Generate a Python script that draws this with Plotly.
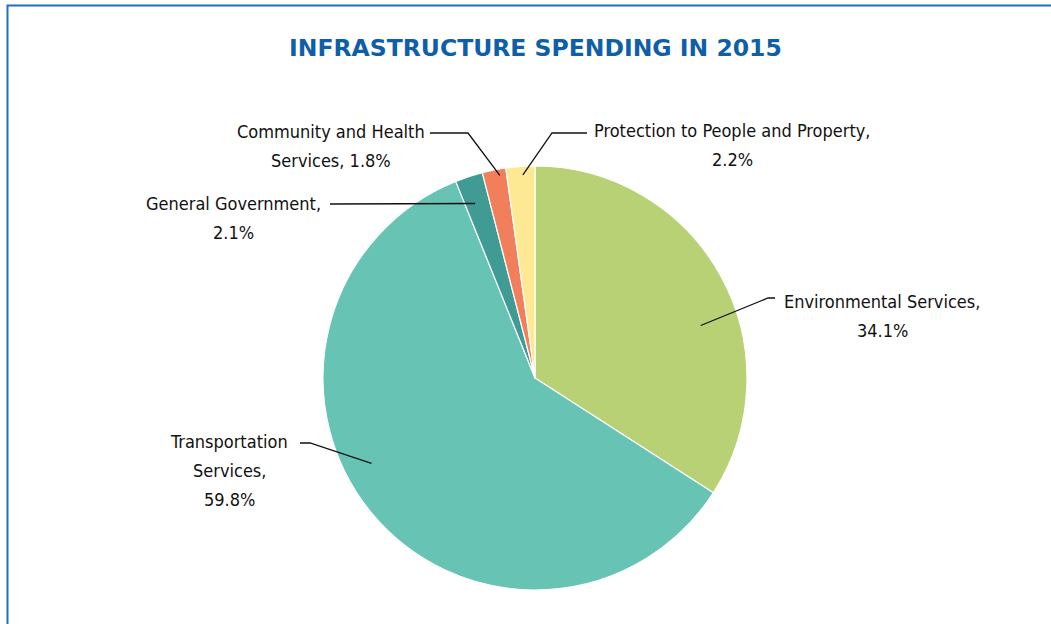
import math
import plotly.graph_objects as go

W, H = 1051, 624

# Spending shares, clockwise from 12 o'clock
categories = [
    "Environmental Services",
    "Transportation Services",
    "General Government",
    "Community and Health Services",
    "Protection to People and Property",
]
shares = [34.1, 59.8, 2.1, 1.8, 2.2]
colors = ["#b8d175", "#67c4b4", "#3f9b93", "#f27f5c", "#fde993"]

# How each label wraps: lines of the name, and whether the value shares the last line
label_lines = [
    ["Environmental Services,"],
    ["Transportation", "Services,"],
    ["General Government,"],
    ["Community and Health"],
    ["Protection to People and Property,"],
]
value_prefix = ["", "", "", "Services, ", ""]

# Label block centres and leader-line elbows (pixel layout)
label_pos = [(882, 316), (229, 470), (233, 218), (331, 146), (732, 145)]
elbows = [
    [(775, 298), (768, 298)],
    [(300, 443), (310, 443)],
    [(330, 204)],
    [(430, 133), (468, 133)],
    [(587, 133), (552, 133)],
]
# Where each leader line meets its slice: share of the slice's sweep, share of radius
anchor_sweep = [0.59, 0.556, 0.4, 0.7, 0.57]
anchor_frac = [0.82, 0.87, 0.87, 0.97, 0.96]
LINE_GAP = 29

# Pie placement
cx, cy, R = 535, 378, 212

fig = go.Figure()

fig.add_trace(go.Pie(
    labels=categories,
    values=shares,
    sort=False,
    direction="clockwise",
    rotation=0,
    marker=dict(colors=colors, line=dict(color="white", width=1.2)),
    textinfo="none",
    hoverinfo="label+percent",
    showlegend=False,
    domain=dict(x=[(cx - R) / W, (cx + R) / W], y=[(H - cy - R) / H, (H - cy + R) / H]),
))

# Invisible pixel-space axes for leader lines and labels
fig.add_trace(go.Scatter(x=[0, W], y=[0, H], mode="markers",
                         marker=dict(opacity=0), hoverinfo="skip", showlegend=False))

label_font = dict(family="DejaVu Sans Condensed, Liberation Sans Narrow, Arial Narrow, sans-serif",
                  size=18, color="#111111")

total = sum(shares)
cum = 0.0
shapes = []
annotations = []
for i, v in enumerate(shares):
    ang = (cum + v * anchor_sweep[i]) / total * 2 * math.pi
    cum += v
    r = R * anchor_frac[i]
    ax_ = cx + r * math.sin(ang)
    ay_ = cy - r * math.cos(ang)
    pts = elbows[i] + [(ax_, ay_)]
    path = "M " + " L ".join(f"{px:.1f},{py:.1f}" for px, py in pts)
    shapes.append(dict(type="path", path=path, xref="x", yref="y",
                       line=dict(color="#111111", width=1.3), layer="above"))

    lines = label_lines[i] + [f"{value_prefix[i]}{v:.1f}%"]
    lx, ly = label_pos[i]
    top = ly - LINE_GAP * (len(lines) - 1) / 2
    for k, txt in enumerate(lines):
        annotations.append(dict(
            x=lx, y=top + k * LINE_GAP, xref="x", yref="y", showarrow=False,
            text=txt, xanchor="center", yanchor="middle", font=label_font,
        ))

# Frame around the chart
shapes.append(dict(type="rect", xref="x", yref="y", x0=7.5, y0=5.5, x1=W + 10, y1=H + 10,
                   line=dict(color="#1f6fbf", width=2), layer="above"))

annotations.append(dict(
    x=535, y=48, xref="x", yref="y", showarrow=False,
    text="<b>INFRASTRUCTURE SPENDING IN 2015</b>",
    xanchor="center", yanchor="middle",
    font=dict(family="DejaVu Sans, sans-serif", size=23.5, color="#0e5ea8"),
))

fig.update_layout(
    width=W, height=H,
    margin=dict(l=0, r=0, t=0, b=0),
    paper_bgcolor="white", plot_bgcolor="white",
    xaxis=dict(range=[0, W], visible=False, fixedrange=True),
    yaxis=dict(range=[H, 0], visible=False, fixedrange=True),
    shapes=shapes, annotations=annotations,
)

fig.write_html("out.html")
